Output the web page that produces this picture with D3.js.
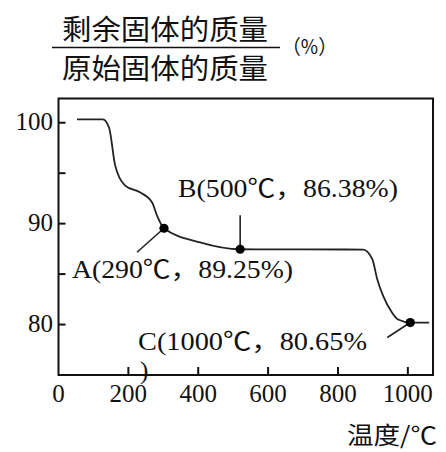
<!DOCTYPE html>
<html>
<head>
<meta charset="utf-8">
<script src="https://cdn.jsdelivr.net/npm/d3@7"></script>
<style>
  body { margin: 0; background: #fff; }
  svg { display: block; }
  .num { font-family: "Liberation Serif", "Noto Sans CJK SC", serif; font-size: 25px; fill: #111; }
  .cjk { font-family: "Noto Sans CJK SC", sans-serif; fill: #111; }
</style>
</head>
<body>
<svg width="446" height="452"></svg>
<script>
// curve: temperature (°C) vs remaining mass (%)
const temps  = [53, 127, 145, 162, 190, 233, 268, 282, 302, 405, 520, 872, 898, 912, 929, 955, 972, 1007, 1061];
const masses = [100.34, 100.34, 99.47, 95.8, 93.8, 93.1, 92.1, 90.8, 89.54, 88.15, 87.46, 87.43, 86.5, 84.55, 82.86, 81.17, 80.5, 80.2, 80.2];

// marked points
const pointNames  = ["A", "B", "C"];
const pointTemps  = [302, 520, 1007];
const pointMasses = [89.54, 87.46, 80.2];
const pointLabels = ["A(290℃，89.25%)", "B(500℃，86.38%)", "C(1000℃，80.65%"];

const xTicks = [200, 400, 600, 800, 1000];
const xTickLabels = [0, 200, 400, 600, 800, 1000];
const yTicks = [80, 85, 90, 95, 100];
const yTickLabels = [80, 90, 100];

const svg = d3.select("svg");
const plotLeft = 58.5, plotRight = 433, plotTop = 98.5, plotBottom = 375;

const x = d3.scaleLinear().domain([0, 1072]).range([plotLeft, plotRight]);
const y = d3.scaleLinear().domain([75, 102.4]).range([plotBottom, plotTop]);

// title: fraction
svg.append("text").attr("class", "cjk")
  .attr("x", 62).attr("y", 40)
  .attr("font-size", 28)
  .attr("textLength", 206).attr("lengthAdjust", "spacingAndGlyphs")
  .text("剩余固体的质量");
svg.append("line")
  .attr("x1", 52).attr("x2", 280).attr("y1", 47.5).attr("y2", 47.5)
  .attr("stroke", "#111").attr("stroke-width", 1.6);
svg.append("text").attr("class", "cjk")
  .attr("x", 62).attr("y", 79)
  .attr("font-size", 28)
  .attr("textLength", 206).attr("lengthAdjust", "spacingAndGlyphs")
  .text("原始固体的质量");
svg.append("text").attr("class", "cjk")
  .attr("x", 282).attr("y", 54)
  .attr("font-size", 20)
  .attr("textLength", 55).attr("lengthAdjust", "spacingAndGlyphs")
  .text("（%）");

// frame
svg.append("rect")
  .attr("x", plotLeft).attr("y", plotTop)
  .attr("width", plotRight - plotLeft).attr("height", plotBottom - plotTop)
  .attr("fill", "none").attr("stroke", "#111").attr("stroke-width", 2);

// ticks, pointing inward
svg.selectAll(".xtick").data(xTicks).join("line")
  .attr("class", "xtick")
  .attr("x1", d => x(d)).attr("x2", d => x(d))
  .attr("y1", plotBottom).attr("y2", plotBottom - 8)
  .attr("stroke", "#111").attr("stroke-width", 2);
svg.selectAll(".ytick").data(yTicks).join("line")
  .attr("class", "ytick")
  .attr("x1", plotLeft).attr("x2", plotLeft + 7)
  .attr("y1", d => y(d)).attr("y2", d => y(d))
  .attr("stroke", "#111").attr("stroke-width", 2);

svg.selectAll(".xlab").data(xTickLabels).join("text")
  .attr("class", "num xlab")
  .attr("x", d => x(d)).attr("y", 402)
  .attr("text-anchor", "middle")
  .text(d => d);
svg.selectAll(".ylab").data(yTickLabels).join("text")
  .attr("class", "num ylab")
  .attr("x", 53).attr("y", d => y(d) + 7)
  .attr("text-anchor", "end")
  .text(d => d);

svg.append("text").attr("class", "cjk")
  .attr("x", 347).attr("y", 444)
  .attr("font-size", 24)
  .attr("textLength", 90).attr("lengthAdjust", "spacingAndGlyphs")
  .text("温度/℃");

// curve
const line = d3.line()
  .x((d, i) => x(temps[i]))
  .y(d => y(d))
  .curve(d3.curveMonotoneX);
svg.append("path")
  .attr("d", line(masses))
  .attr("fill", "none")
  .attr("stroke", "#222")
  .attr("stroke-width", 1.8);

// leader lines (offsets from each point)
const leaders = [[-27, 24], [0, -34], [-23, 15]];
svg.selectAll(".leader").data(pointNames).join("line")
  .attr("class", "leader")
  .attr("x1", (d, i) => x(pointTemps[i])).attr("y1", (d, i) => y(pointMasses[i]))
  .attr("x2", (d, i) => x(pointTemps[i]) + leaders[i][0])
  .attr("y2", (d, i) => y(pointMasses[i]) + leaders[i][1])
  .attr("stroke", "#222").attr("stroke-width", 1.6);

svg.selectAll(".dot").data(pointNames).join("circle")
  .attr("class", "dot")
  .attr("cx", (d, i) => x(pointTemps[i]))
  .attr("cy", (d, i) => y(pointMasses[i]))
  .attr("r", 4.6)
  .attr("fill", "#000");

// labels
const labelPos = [[72, 278, 221], [178, 197, 220], [138, 350, 229]];
svg.selectAll(".plabel").data(pointLabels).join("text")
  .attr("class", "num plabel")
  .attr("x", (d, i) => labelPos[i][0])
  .attr("y", (d, i) => labelPos[i][1])
  .attr("textLength", (d, i) => labelPos[i][2])
  .attr("lengthAdjust", "spacingAndGlyphs")
  .text(d => d);
// C label's closing bracket wrapped onto the next line
svg.append("text").attr("class", "num")
  .attr("x", 140).attr("y", 379)
  .text(")");
</script>
</body>
</html>
